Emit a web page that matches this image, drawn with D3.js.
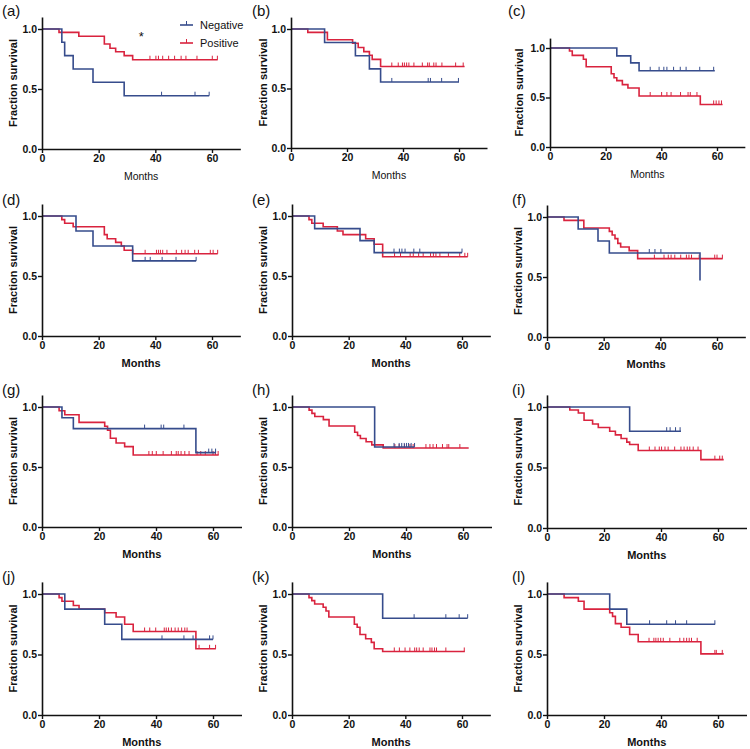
<!DOCTYPE html>
<html><head><meta charset="utf-8">
<script src="https://cdn.jsdelivr.net/npm/d3@7"></script>
<style>body{margin:0;background:#fff} svg{display:block} text{font-family:"Liberation Sans",Arial,sans-serif}</style>
</head><body>
<svg id="c" width="750" height="749"></svg>
<script>
const panelLabels = ["(a)","(b)","(c)","(d)","(e)","(f)","(g)","(h)","(i)","(j)","(k)","(l)"];
const seriesNames = ["Negative","Positive"];
const xTicks = [0,20,40,60];
const yTicks = [0,0.5,1.0];

// Negative group: event times, survival after each event, censor times, last follow-up
const negTimes = [[7,8,11,18,29],[12,23,28,32],[24,29,32],[12,18,32],[8,24,29],[11,18,22,54],
  [7,11,54],[29],[29],[8,22,28],[32],[22,28]];
const negSurv = [[.889,.778,.667,.556,.444],[.887,.775,.665,.555],[.92,.85,.77],[.875,.75,.626],
  [.895,.795,.695],[.9,.8,.7,.47],[.91,.82,.62],[.667],[.80],[.875,.75,.625],[.8],[.875,.75]];
const negCensor = [[42.2,54,59],[36,49,49.8,53.8,59.8],[36,39.2,40.9,42,44.4,46.8,48.9,53.8,58.8],
  [36.4,38.2,42.4,47.3,54.4],[36,37.9,38.8,39.9,43,45.1,60],[36.1,38.1,40.2],
  [36,41.8,42.7,49.8,58.5,59.6,60.9],[35.8,37.6,38.5,39.4,40.2,40.9,41.8,43],[42,43.2,45.1,46.7],
  [42.1,49.8,53,58.8,60],[43.1,54.3,59,62],[36,42,45.1,49,58.9]];
const negEnd = [59,60,59.2,54.4,60,54,61,43,47,60,62,59];

// Positive group
const posTimes = [[6,13,22,24,26,29,32],[6,13,22,24,26,28,29,32],[7,8,12,13,22,23,24,26,28,32,54],
  [7,8,11,22,23,26,28,29,32],[6,7,11,16,18,26,29,32],[6,13,22,23,24,25,26,29,32],
  [6,8,13,22,23,24,26,29,32],[6,7,8,11,13,22,23,24,26,28,32],[8,11,13,16,18,22,24,26,28,29,32,54],
  [6,7,11,13,22,26,29,32,54],[6,7,8,11,12,13,22,23,24,26,28,29,32],[6,11,13,22,23,24,26,29,32,54]];
const posSurv = [[.972,.939,.875,.84,.81,.778,.744],[.972,.91,.88,.845,.81,.78,.745,.685],
  [.97,.926,.886,.81,.74,.70,.67,.63,.596,.515,.43],[.97,.94,.91,.845,.81,.78,.75,.715,.685],
  [.97,.94,.91,.875,.845,.81,.765,.66],[.972,.908,.88,.85,.82,.78,.75,.72,.653],
  [.969,.936,.872,.839,.806,.739,.70,.67,.60],[.974,.947,.921,.895,.842,.79,.763,.737,.71,.684,.658],
  [.975,.95,.89,.86,.83,.80,.77,.74,.71,.69,.64,.565],[.97,.94,.905,.875,.845,.81,.75,.69,.547],
  [.97,.945,.917,.89,.86,.81,.75,.725,.665,.63,.6,.547,.525],[.97,.94,.875,.845,.815,.755,.725,.665,.605,.505]];
const posCensor = [[38.1,40.2,41.1,42.6,44.7,46.8,49.1,50.8,54.7,60.1,61.9],
  [36,38.3,39.8,40.5,41.3,42.1,43.9,46.9,48.8,49.4,51,51.8,53.9,58.8,61.5],
  [36,40.1,42,43.5,46.9,49.6,50.4,52.8,58.8,59.7,60.7,61.6],
  [36.4,40.4,41.1,41.8,42.6,44.1,47.4,49.3,50.5,51.6,53.9,55.2,59.4,60.4,62],
  [36.2,38.3,41.7,42.8,44.7,46.3,48.9,49.9,50.8,52.2,55.2,59.2,61,62],
  [37.9,41.3,42.8,43.8,45.1,47.2,49.2,50.1,51,53.7,59.2,60,61.9],
  [37.5,38.7,40.1,42.5,45.4,47.1,47.8,48.8,50.1,51.6,54.4,55.7,57.3,60,60.9,61.8],
  [36.1,37.6,39.5,41.4,42.5,47,48.4,49.5,50.7,52.8,54.4,55,58.9],
  [35.9,37.9,39.4,40.2,41.4,42.5,44.8,47,48.1,49.2,50.1,51.3,53,58.9,60.6,61.5],
  [36,37.8,39.9,42.9,43.6,44.4,45.4,46.7,47.8,49,50.1,50.9,55.1,58.8,60.9],
  [36.1,37.9,39.9,41.6,43.3,44,44.9,46.3,48.7,49.4,50.3,51,54.3,60.8],
  [35.8,37.5,38.2,39,39.9,40.8,43.1,46.6,48,49,49.9,50.7,52.7,58.9,59.4,61.5]];
const posEnd = [62,62,62,62,62,62,62,62,62,61,61,62];

// Layout of each panel: x position of 0 and 60 months, y position of 0.0 and 1.0
const layout = [
  {x0:42,x60:212,y0:149,y1:29,lx:2,ly:16,tx:13,mb:false},
  {x0:291,x60:459,y0:148,y1:29,lx:252,ly:16,tx:263,mb:false},
  {x0:550,x60:717,y0:147,y1:48,lx:508,ly:16,tx:519,mb:false},
  {x0:42,x60:212,y0:336,y1:216,lx:2,ly:205,tx:13,mb:true},
  {x0:292,x60:462,y0:336,y1:216,lx:252,ly:205,tx:263,mb:true},
  {x0:547,x60:717,y0:337,y1:217,lx:512,ly:205,tx:518,mb:true},
  {x0:42,x60:213,y0:527,y1:407,lx:2,ly:395,tx:13,mb:true},
  {x0:292,x60:463,y0:527,y1:407,lx:252,ly:395,tx:263,mb:true},
  {x0:547,x60:718,y0:528,y1:407,lx:512,ly:395,tx:518,mb:true},
  {x0:42,x60:213,y0:715,y1:594,lx:2,ly:582,tx:13,mb:true},
  {x0:292,x60:462,y0:715,y1:594,lx:252,ly:582,tx:263,mb:true},
  {x0:547,x60:718,y0:715,y1:594,lx:512,ly:582,tx:518,mb:true}
];

const BLUE = "#364c8c", RED = "#d9233e";
const svg = d3.select("#c");

function survAt(times, surv, t){
  let s = 1;
  for (let j=0;j<times.length;j++){ if (times[j] <= t) s = surv[j]; }
  return s;
}

panelLabels.forEach((lab,i)=>{
  const L = layout[i];
  const pxm = (L.x60-L.x0)/60, pyu = (L.y0-L.y1);
  const x = d3.scaleLinear().domain([0,70]).range([L.x0, L.x0+70*pxm]);
  const y = d3.scaleLinear().domain([0,1.1]).range([L.y0, L.y0-1.1*pyu]);
  const g = svg.append("g");

  const line = d3.line().x(d=>x(d[0])).y(d=>y(d[1])).curve(d3.curveStepAfter);
  const groups = [
    {t:posTimes[i], s:posSurv[i], c:posCensor[i], e:posEnd[i], col:RED},
    {t:negTimes[i], s:negSurv[i], c:negCensor[i], e:negEnd[i], col:BLUE}
  ];
  groups.forEach(G=>{
    const pts = [[0,1]].concat(G.t.map((t,j)=>[t,G.s[j]]));
    pts.push([G.e, G.s[G.s.length-1]]);
    g.append("path").attr("d", line(pts)).attr("fill","none")
      .attr("stroke",G.col).attr("stroke-width",1.6);
    g.selectAll(null).data(G.c).enter().append("line")
      .attr("x1",d=>x(d)).attr("x2",d=>x(d))
      .attr("y1",d=>y(survAt(G.t,G.s,d))).attr("y2",d=>y(survAt(G.t,G.s,d))-4)
      .attr("stroke",G.col).attr("stroke-width",1);
  });

  const xa = g.append("g").attr("transform",`translate(0,${L.y0})`)
    .call(d3.axisBottom(x).tickValues(xTicks).tickSize(4).tickSizeOuter(0).tickFormat(d3.format("d")));
  const ya = g.append("g").attr("transform",`translate(${L.x0},0)`)
    .call(d3.axisLeft(y).tickValues(yTicks).tickSize(4).tickSizeOuter(0).tickFormat(d3.format(".1f")));
  [xa,ya].forEach(a=>{
    a.select(".domain").attr("stroke","#111").attr("stroke-width",1.6);
    a.selectAll(".tick line").attr("stroke","#111").attr("stroke-width",1.4);
    a.selectAll(".tick text").attr("fill","#111").style("font-size","10.5px").style("font-weight","bold")
      .style("font-family",'"Liberation Sans",Arial,sans-serif');
  });
  xa.selectAll(".tick text").attr("y",6);
  ya.selectAll(".tick text").attr("x",-5);

  g.append("text").text("Months").attr("x",(x(0)+x(70))/2).attr("y",L.y0+31)
    .attr("text-anchor","middle").style("font-size",L.mb?"11px":"10.5px")
    .style("font-weight",L.mb?"bold":"normal").attr("fill","#111");
  const ymid = (y(0)+y(1.1))/2;
  g.append("text").text("Fraction survival")
    .attr("transform",`translate(${L.tx+4},${ymid}) rotate(-90)`)
    .attr("text-anchor","middle").style("font-size","11px").style("font-weight","bold").attr("fill","#111");
  g.append("text").text(lab).attr("x",L.lx).attr("y",L.ly).style("font-size","15px").attr("fill","#111");

  if (i===0){
    const leg = g.append("g");
    seriesNames.forEach((nm,k)=>{
      const col = k===0?BLUE:RED;
      const ly = 25 + k*18;
      leg.append("line").attr("x1",180).attr("x2",193).attr("y1",ly).attr("y2",ly)
        .attr("stroke",col).attr("stroke-width",1.6);
      leg.append("line").attr("x1",186.5).attr("x2",186.5).attr("y1",ly).attr("y2",ly-4)
        .attr("stroke",col).attr("stroke-width",1);
      leg.append("text").text(nm).attr("x",200).attr("y",ly+4).style("font-size","11px").attr("fill","#111");
    });
    g.append("text").text("*").attr("x",x(35)).attr("y",y(0.95)+6).attr("text-anchor","middle")
      .style("font-size","13px").attr("fill","#111");
  }
});
</script>
</body></html>
